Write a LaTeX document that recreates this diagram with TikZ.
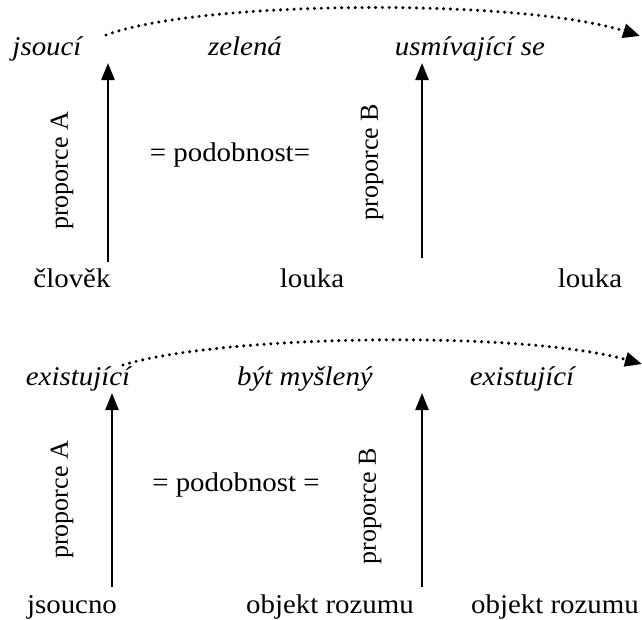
\documentclass[tikz,border=0pt]{standalone}
\usepackage{fontspec}
\setmainfont{Liberation Serif}
\newfontfamily\widefont{Liberation Serif}[FakeStretch=1.07]
\usepackage{tikz}
\usetikzlibrary{arrows.meta}
\tikzset{
  lab/.style={font=\widefont\fontsize{27}{31}\selectfont, inner sep=0pt, anchor=base},
  term/.style={lab, font=\widefont\fontsize{27}{31}\selectfont\itshape},
  side/.style={font=\fontsize{26}{30}\selectfont, inner sep=0pt, rotate=90},
  simil/.style={font=\widefont\fontsize{27}{31}\selectfont, inner sep=0pt},
  upArrow/.style={line width=2.4pt, -{Triangle[width=13pt,length=17pt]}},
  dotArc/.style={line width=3.4pt, line cap=round, dash pattern=on 0pt off 6.8pt,
    -{Triangle[width=14pt,length=17pt]}}
}

\begin{document}
\begin{tikzpicture}[x=1pt,y=-1pt]
\useasboundingbox (0,0) rectangle (642,619);

% first proportion
\node[term] (jsouci) at (47,55) {jsoucí};
\node[term] (zelena) at (245,55) {zelená};
\node[term] (usmiv) at (470,55) {usmívající se};
\node[lab] (clovek) at (72,287) {člověk};
\node[lab] (louka1) at (312,287) {louka};
\node[lab] (louka2) at (590,287) {louka};
\node[side] (propA1) at (62,171) {proporce A};
\node[side] (propB1) at (372,162) {proporce B};
\node[simil] (podob1) at (230,155) {= podobnost=};
\coordinate (a1s) at (108,262);
\coordinate (a1e) at (108,63);
\coordinate (b1s) at (422,258);
\coordinate (b1e) at (422,63);
\coordinate (arc1s) at (106,35);
\coordinate (arc1e) at (640,36);
\draw[upArrow] (a1s) -- (a1e);
\draw[upArrow] (b1s) -- (b1e);
\draw[dotArc] (arc1s) .. controls (200,0) and (520,-2) .. (arc1e);

% second proportion
\node[term] (exist1) at (78,385) {existující};
\node[term] (mysl) at (305,385) {být myšlený};
\node[term] (exist2) at (522,385) {existující};
\node[lab] (jsoucno) at (72,613) {jsoucno};
\node[lab] (objekt1) at (330,613) {objekt rozumu};
\node[lab] (objekt2) at (555,613) {objekt rozumu};
\node[side] (propA2) at (62,500) {proporce A};
\node[side] (propB2) at (370,506) {proporce B};
\node[simil] (podob2) at (236,485) {= podobnost =};
\coordinate (a2s) at (112,587);
\coordinate (a2e) at (112,393);
\coordinate (b2s) at (422,587);
\coordinate (b2e) at (422,393);
\coordinate (arc2s) at (123,365);
\coordinate (arc2e) at (642,364);
\draw[upArrow] (a2s) -- (a2e);
\draw[upArrow] (b2s) -- (b2e);
\draw[dotArc] (arc2s) .. controls (220,335) and (520,330) .. (arc2e);
\end{tikzpicture}
\end{document}
